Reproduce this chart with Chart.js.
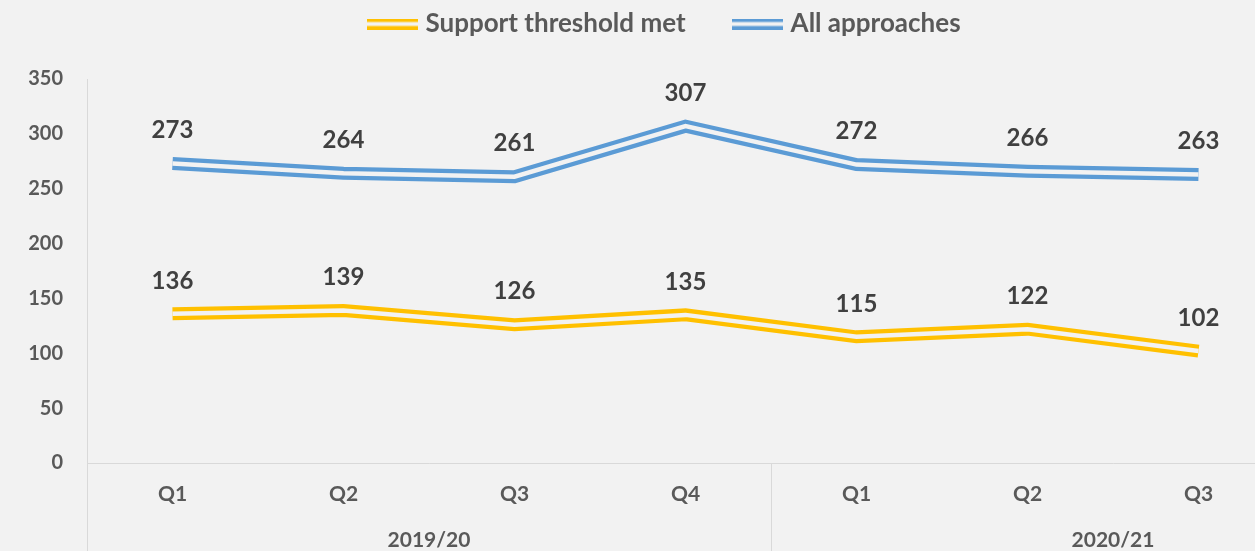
<!DOCTYPE html>
<html><head><meta charset="utf-8">
<script src="https://cdn.jsdelivr.net/npm/chart.js@4.4.0/dist/chart.umd.min.js"></script>
<style>
html,body{margin:0;padding:0;background:#f2f2f2;overflow:hidden;width:1255px;height:551px}
#wrap{position:relative;width:1455px;height:551px}
canvas{display:block}
</style></head><body>
<div id="wrap"><canvas id="c" width="1455" height="551"></canvas></div>
<script>
// ---- data ----
const quarters = ['Q1','Q2','Q3','Q4','Q1','Q2','Q3','Q4'];
const years = ['2019/20','2020/21'];
const yearSpans = [4,4];
const supportMet = [136,139,126,135,115,122,102,null];
const allApproaches = [273,264,261,307,272,266,263,null];
const seriesNames = ['Support threshold met','All approaches'];
const yMin = 0, yMax = 350, yStep = 50;

const BG = '#f2f2f2';
const FONT = 'Lato, "Open Sans", sans-serif';
const AXIS_COL = '#d9d9d9';
const TEXT_COL = '#595959';
const LABEL_COL = '#404040';

function legendMark(color){
  const c = document.createElement('canvas');
  c.width = 51; c.height = 11;
  const g = c.getContext('2d');
  g.fillStyle = color;
  g.fillRect(0,0,51,3.5);
  g.fillRect(0,7.5,51,3.5);
  return c;
}

const bgPlugin = {
  id:'bg',
  beforeDraw(chart){
    const ctx = chart.ctx;
    ctx.save(); ctx.fillStyle = BG; ctx.fillRect(0,0,chart.width,chart.height); ctx.restore();
  }
};

const legendPos = {
  id:'legendPos',
  afterLayout(chart){
    const lg = chart.legend;
    if(!lg) return;
    lg.left = 0; lg.right = 1333;
    lg.top = -41; lg.bottom = 60;
  }
};

const doubleLine = {
  id:'doubleLine',
  afterDatasetDraw(chart, args){
    const meta = args.meta;
    const pts = meta.data.filter(p => !p.skip);
    if(pts.length < 2) return;
    const ctx = chart.ctx;
    ctx.save();
    ctx.strokeStyle = BG;
    ctx.lineWidth = 4.5;
    ctx.lineJoin = 'miter';
    ctx.lineCap = 'butt';
    ctx.beginPath();
    pts.forEach((p,i) => i ? ctx.lineTo(p.x,p.y) : ctx.moveTo(p.x,p.y));
    ctx.stroke();
    ctx.restore();
  }
};

const valueLabels = {
  id:'valueLabels',
  afterDatasetsDraw(chart){
    const ctx = chart.ctx;
    ctx.save();
    ctx.font = 'bold 24px ' + FONT;
    ctx.fillStyle = LABEL_COL;
    ctx.textAlign = 'center';
    ctx.textBaseline = 'middle';
    chart.data.datasets.forEach((ds, di) => {
      const meta = chart.getDatasetMeta(di);
      meta.data.forEach((p, i) => {
        const v = ds.data[i];
        if(v === null || v === undefined) return;
        ctx.fillText(String(v), p.x, p.y - 33);
      });
    });
    ctx.restore();
  }
};

const groupAxis = {
  id:'groupAxis',
  afterDraw(chart){
    const xs = chart.scales.x;
    const ctx = chart.ctx;
    const step = xs.getPixelForValue(1) - xs.getPixelForValue(0);
    const area = chart.chartArea;
    ctx.save();
    ctx.strokeStyle = AXIS_COL;
    ctx.lineWidth = 1;
    ctx.font = 'bold 21px ' + FONT;
    ctx.fillStyle = TEXT_COL;
    ctx.textAlign = 'center';
    ctx.textBaseline = 'middle';
    let idx = 0;
    years.forEach((y, gi) => {
      const left = xs.getPixelForValue(idx) - step/2;
      const right = xs.getPixelForValue(idx + yearSpans[gi] - 1) + step/2;
      const lx = Math.round(left) + 0.5;
      ctx.beginPath();
      ctx.moveTo(lx, area.bottom);
      ctx.lineTo(lx, chart.height);
      ctx.stroke();
      ctx.fillText(y, (left + right)/2, 540);
      idx += yearSpans[gi];
    });
    ctx.restore();
  }
};

new Chart(document.getElementById('c'), {
  type:'line',
  data:{
    labels: quarters,
    datasets:[
      {label: seriesNames[0], data: supportMet, borderColor:'#FFC000', backgroundColor:'#FFC000',
       borderWidth:13, tension:0, pointRadius:0, pointHoverRadius:0, pointStyle: legendMark('#FFC000'), borderJoinStyle:'miter'},
      {label: seriesNames[1], data: allApproaches, borderColor:'#5B9BD5', backgroundColor:'#5B9BD5',
       borderWidth:13, tension:0, pointRadius:0, pointHoverRadius:0, pointStyle: legendMark('#5B9BD5'), borderJoinStyle:'miter'}
    ]
  },
  options:{
    responsive:false,
    animation:false,
    devicePixelRatio:1,
    layout:{padding:{top:78,left:0,right:0,bottom:0}},
    plugins:{
      tooltip:{enabled:false},
      legend:{
        position:'top',
        maxHeight:1,
        labels:{
          usePointStyle:true,
          pointStyleWidth:40,
          padding:52,
          color:TEXT_COL,
          font:{family:FONT, size:26, weight:'bold'}
        }
      }
    },
    scales:{
      x:{
        type:'category',
        offset:true,
        grid:{display:false, drawTicks:false},
        border:{display:true, color:AXIS_COL, width:1},
        ticks:{color:TEXT_COL, font:{family:FONT,size:21,weight:'bold'}, padding:19, maxRotation:0, autoSkip:false},
        afterFit(s){ s.height = 88; }
      },
      y:{
        min:yMin, max:yMax,
        grid:{display:false, drawTicks:false},
        border:{display:true, color:AXIS_COL, width:1},
        ticks:{stepSize:yStep, color:TEXT_COL, font:{family:FONT,size:20,weight:'bold'}, padding:24},
        afterFit(s){ s.width = 87; }
      }
    }
  },
  plugins:[bgPlugin, legendPos, doubleLine, valueLabels, groupAxis]
});
</script>
</body></html>
